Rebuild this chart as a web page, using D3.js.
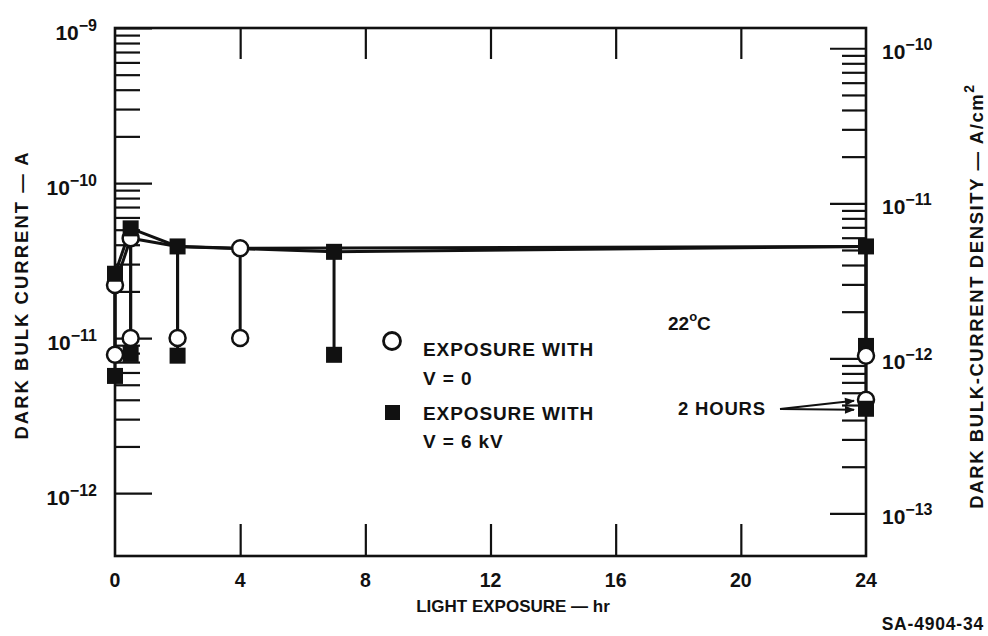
<!DOCTYPE html>
<html>
<head>
<meta charset="utf-8">
<script src="https://cdn.jsdelivr.net/npm/d3@7"></script>
<style>
  body { margin: 0; background: #fff; }
  svg { display: block; }
  text { font-family: "Liberation Sans", Arial, sans-serif; font-weight: bold; fill: #111; }
</style>
</head>
<body>
<div id="chart"></div>
<script>
// Light-exposure series (hours, amperes)
const hoursV0 = [0, 0.5, 2, 4, 24];
const litV0 = [2.2e-11, 4.4e-11, 3.9e-11, 3.8e-11, 3.9e-11];
const darkV0 = [7.8e-12, 1.0e-11, 1.0e-11, 1.0e-11, 7.7e-12];

const hoursV6 = [0, 0.5, 2, 7, 24];
const litV6 = [2.6e-11, 5.1e-11, 3.9e-11, 3.6e-11, 3.9e-11];
const darkV6 = [5.7e-12, 7.9e-12, 7.7e-12, 7.8e-12, 8.9e-12];

// values after a further 2 hours in the dark, at 24 hr
const twoHourV0 = 4.0e-12;
const twoHourV6 = 3.5e-12;

const xTicks = [0, 4, 8, 12, 16, 20, 24];
const leftDecades = [-12, -11, -10, -9];
const rightDecades = [-13, -12, -11, -10];
const sampleArea = 7.4; // cm^2, current -> density

const width = 988, height = 636;
const margin = { left: 115, right: 122, top: 28, bottom: 80 };

const svg = d3.select("#chart").append("svg")
    .attr("width", width)
    .attr("height", height);

const x = d3.scaleLinear().domain([0, 24]).range([margin.left, width - margin.right]);
const y = d3.scaleLog().domain([3.93e-13, 1e-9]).range([height - margin.bottom, margin.top]);
const yR = d3.scaleLog()
    .domain(y.domain().map(d => d / sampleArea))
    .range(y.range());

const x0 = x.range()[0], x1 = x.range()[1];
const yTop = y.range()[1], yBot = y.range()[0];

// minor/major tick values for a log axis between two decades
function logTicks(decades) {
    const major = decades.map(e => Math.pow(10, e));
    const minor = [];
    for (let i = 0; i < decades.length - 1; i++) {
        for (let m = 2; m <= 9; m++) minor.push(m * Math.pow(10, decades[i]));
    }
    return { major, minor };
}

function styleAxis(g) {
    g.select(".domain").remove();
    g.selectAll(".tick line").attr("stroke", "#111").attr("stroke-width", 2.2);
    g.selectAll(".tick text").remove();
}

/* ------- LEFT AXIS (ticks point inward) ------- */
const lt = logTicks(leftDecades);
svg.append("g").attr("transform", `translate(${x0},0)`)
    .call(d3.axisRight(y).tickValues(lt.minor).tickSize(25))
    .call(styleAxis);
svg.append("g").attr("transform", `translate(${x0},0)`)
    .call(d3.axisRight(y).tickValues(lt.major).tickSize(37))
    .call(styleAxis);

/* ------- RIGHT AXIS ------- */
const rt = logTicks(rightDecades);
svg.append("g").attr("transform", `translate(${x1},0)`)
    .call(d3.axisLeft(yR).tickValues(rt.minor).tickSize(24))
    .call(styleAxis);
svg.append("g").attr("transform", `translate(${x1},0)`)
    .call(d3.axisLeft(yR).tickValues(rt.major).tickSize(36))
    .call(styleAxis);

/* ------- X AXIS ------- */
const inner = xTicks.filter(d => d > 0 && d < 24);
svg.append("g").attr("transform", `translate(0,${yBot})`)
    .call(d3.axisBottom(x).tickValues(inner).tickSize(-32))
    .call(styleAxis);
svg.append("g").attr("transform", `translate(0,${yTop})`)
    .call(d3.axisTop(x).tickValues(inner).tickSize(-31))
    .call(styleAxis);

svg.append("g").selectAll("text").data(xTicks).join("text")
    .attr("x", d => x(d))
    .attr("y", yBot + 31)
    .attr("text-anchor", "middle")
    .style("font-size", "19.5px")
    .text(d => d);

// frame
svg.append("rect")
    .attr("x", x0).attr("y", yTop)
    .attr("width", x1 - x0).attr("height", yBot - yTop)
    .attr("fill", "none").attr("stroke", "#111").attr("stroke-width", 2.6);

// power-of-ten labels
function powerLabel(sel, exp) {
    sel.append("tspan").text("10");
    sel.append("tspan").attr("dy", -9).style("font-size", "16px").text("\u2212" + (-exp));
}
svg.append("g").selectAll("text").data(leftDecades).join("text")
    .attr("x", 97)
    .attr("y", d => y(Math.pow(10, d)) + 12)
    .attr("text-anchor", "end")
    .style("font-size", "21px")
    .each(function(d) { powerLabel(d3.select(this), d); });

svg.append("g").selectAll("text").data(rightDecades).join("text")
    .attr("x", 882)
    .attr("y", d => yR(Math.pow(10, d)) + 11)
    .style("font-size", "21px")
    .each(function(d) { powerLabel(d3.select(this), d); });

/* ------- AXIS TITLES ------- */
svg.append("text")
    .attr("transform", `translate(28,295) rotate(-90)`)
    .attr("text-anchor", "middle")
    .style("font-size", "18.5px").style("letter-spacing", "2px")
    .text("DARK BULK CURRENT \u2014 A");

const rTitle = svg.append("text")
    .attr("transform", `translate(983,296) rotate(-90)`)
    .attr("text-anchor", "middle")
    .style("font-size", "18.5px").style("letter-spacing", "1.6px");
rTitle.append("tspan").text("DARK BULK-CURRENT DENSITY \u2014 A/cm");
rTitle.append("tspan").attr("dy", -9).style("font-size", "14px").text("2");

svg.append("text")
    .attr("x", 513).attr("y", 612)
    .attr("text-anchor", "middle")
    .style("font-size", "17px")
    .text("LIGHT EXPOSURE \u2014 hr");

svg.append("text")
    .attr("x", 984).attr("y", 630)
    .attr("text-anchor", "end")
    .style("font-size", "17.5px").style("letter-spacing", "0.8px")
    .text("SA-4904-34");

/* ------- DATA ------- */
const line = d3.line().x(d => x(d[0])).y(d => y(d[1]));
const plot = svg.append("g");

function drawSeries(hours, lit, dark) {
    plot.append("path")
        .datum(hours.map((h, i) => [h, lit[i]]))
        .attr("d", line)
        .attr("fill", "none").attr("stroke", "#111").attr("stroke-width", 3);
    plot.append("g").selectAll("line").data(hours).join("line")
        .attr("x1", d => x(d)).attr("x2", d => x(d))
        .attr("y1", (d, i) => y(lit[i])).attr("y2", (d, i) => y(dark[i]))
        .attr("stroke", "#111").attr("stroke-width", 3);
}
drawSeries(hoursV6, litV6, darkV6);
drawSeries(hoursV0, litV0, darkV0);

// 2-hour recovery drop at 24 hr
plot.append("line")
    .attr("x1", x(24)).attr("x2", x(24))
    .attr("y1", y(darkV0[4])).attr("y2", y(twoHourV6))
    .attr("stroke", "#111").attr("stroke-width", 3);

const sq = 16;
function squares(pts) {
    plot.append("g").selectAll("rect").data(pts).join("rect")
        .attr("x", d => x(d[0]) - sq / 2).attr("y", d => y(d[1]) - sq / 2)
        .attr("width", sq).attr("height", sq)
        .attr("fill", "#111");
}
function circles(pts) {
    plot.append("g").selectAll("circle").data(pts).join("circle")
        .attr("cx", d => x(d[0])).attr("cy", d => y(d[1]))
        .attr("r", 8)
        .attr("fill", "#fff").attr("stroke", "#111").attr("stroke-width", 2.5);
}

const darkSq = hoursV6.map((h, i) => [h, darkV6[i]]);
const darkCi = hoursV0.map((h, i) => [h, darkV0[i]]);
squares(darkSq);
circles(darkCi.concat([[24, twoHourV0]]));
squares([[24, twoHourV6]]);
circles(hoursV0.map((h, i) => [h, litV0[i]]).filter(d => d[0] === 0 || d[0] === 0.5 || d[0] === 4));
squares(hoursV6.map((h, i) => [h, litV6[i]]));

/* ------- LEGEND & NOTES ------- */
const legend = svg.append("g").style("font-size", "19px").style("letter-spacing", "0.9px");
legend.append("circle").attr("cx", 392).attr("cy", 341).attr("r", 8.5)
    .attr("fill", "#fff").attr("stroke", "#111").attr("stroke-width", 2.8);
legend.append("text").attr("x", 423).attr("y", 356).text("EXPOSURE WITH");
legend.append("text").attr("x", 423).attr("y", 385).text("V = 0");
legend.append("rect").attr("x", 385).attr("y", 405).attr("width", 15).attr("height", 15).attr("fill", "#111");
legend.append("text").attr("x", 423).attr("y", 420).text("EXPOSURE WITH");
legend.append("text").attr("x", 423).attr("y", 448).text("V = 6 kV");

const temp = svg.append("text").attr("x", 668).attr("y", 330).style("font-size", "19px");
temp.append("tspan").text("22");
temp.append("tspan").attr("dy", -9).style("font-size", "13px").text("o");
temp.append("tspan").attr("dy", 9).text("C");

svg.append("defs").append("marker")
    .attr("id", "arrow").attr("viewBox", "0 0 10 10")
    .attr("refX", 9).attr("refY", 5)
    .attr("markerWidth", 7).attr("markerHeight", 5)
    .attr("orient", "auto")
    .append("path").attr("d", "M0,1 L10,5 L0,9 Z").attr("fill", "#111");

svg.append("text").attr("x", 678).attr("y", 415)
    .style("font-size", "18.5px").style("letter-spacing", "0.8px")
    .text("2 HOURS");
[twoHourV0, twoHourV6].forEach(v => {
    svg.append("line")
        .attr("x1", 780).attr("y1", 409)
        .attr("x2", x(24) - 12).attr("y2", y(v) + 1)
        .attr("stroke", "#111").attr("stroke-width", 2)
        .attr("marker-end", "url(#arrow)");
});
</script>
</body>
</html>
